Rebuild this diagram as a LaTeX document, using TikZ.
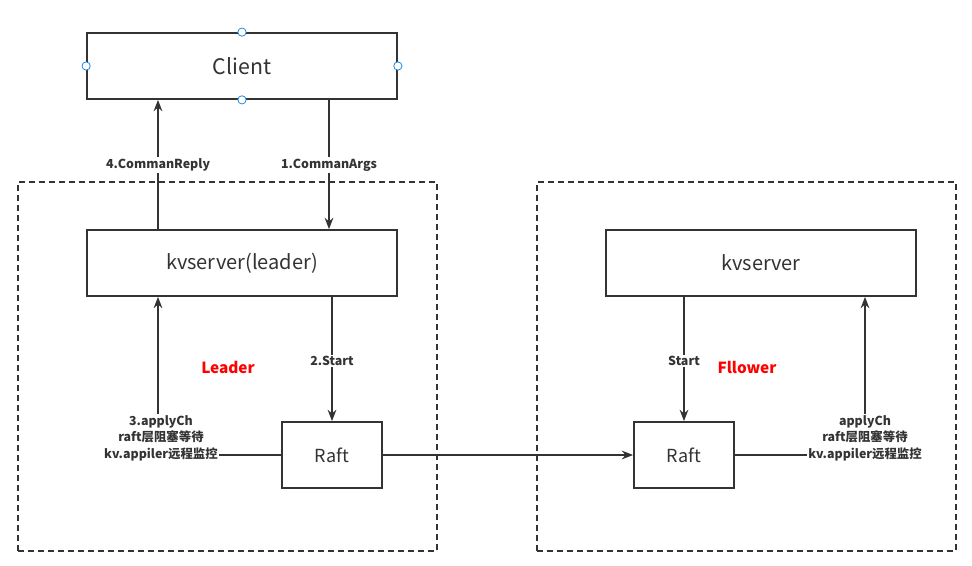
\documentclass[tikz,border=0pt]{standalone}
\usepackage{fontspec}
\setmainfont{Noto Sans CJK SC}
\usepackage{xcolor}
\usetikzlibrary{arrows.meta, positioning, calc}
\definecolor{linegray}{HTML}{333333}
\definecolor{handleblue}{HTML}{1E88E5}

\begin{document}
\begin{tikzpicture}[
    x=0.75pt, y=-0.75pt,
    >={Stealth[length=8.5pt, width=6.5pt]},
    % Styles
    plainbox/.style={rectangle, draw=linegray, line width=1.3pt, fill=white, text=linegray, align=center, inner sep=0pt},
    groupbox/.style={rectangle, draw=linegray, line width=1.1pt, dash pattern=on 4.5pt off 3pt, inner sep=0pt},
    steplabel/.style={font=\fontsize{9.3}{12.3}\selectfont\bfseries, text=linegray, fill=white, align=center, inner sep=1pt},
    rolelabel/.style={font=\fontsize{11.5}{14}\selectfont\bfseries, text=red},
    arrowstyle/.style={->, line width=1.3pt, color=linegray},
    linkstyle/.style={line width=1.3pt, color=linegray},
    handle/.style={circle, draw=handleblue, fill=white, line width=0.6pt, minimum size=6.2pt, inner sep=0pt},
]
\useasboundingbox (0,0) rectangle (972,566);

% === GROUPS ===
\node[groupbox, minimum width=314.25pt, minimum height=276.75pt] (leaderbox) at (227.5,366.5) {};
\node[groupbox, minimum width=314.25pt, minimum height=276.75pt] (followerbox) at (746.5,366.5) {};

% === CLIENT ===
\node[plainbox, minimum width=232.5pt, minimum height=49.5pt, font=\fontsize{16}{18}\selectfont] (client) at (242,66) {Client};

% === LEADER ===
\node[plainbox, minimum width=232.5pt, minimum height=49.5pt, font=\fontsize{15}{18}\selectfont] (leaderkv) at (242,263) {kvserver(leader)};
\node[plainbox, minimum width=75pt, minimum height=49.5pt, font=\fontsize{13.5}{16}\selectfont] (leaderraft) at (332,455) {Raft};
\node[rolelabel] (leadertag) at (228,367) {Leader};

% === FOLLOWER ===
\node[plainbox, minimum width=232.5pt, minimum height=49.5pt, font=\fontsize{15}{18}\selectfont] (followerkv) at (761,263) {kvserver};
\node[plainbox, minimum width=75pt, minimum height=49.5pt, font=\fontsize{13.5}{16}\selectfont] (followerraft) at (684,455) {Raft};
\node[rolelabel] (followertag) at (747,367) {Fllower};

% === LABELS ===
\node[steplabel] (reply) at (158,165) {4.CommanReply};
\node[steplabel] (args) at (329,165) {1.CommanArgs};
\node[steplabel] (start) at (332,361) {2.Start};
\node[steplabel] (apply) at (161,438) {3.applyCh\\raft层阻塞等待\\kv.appiler远程监控};
\node[steplabel] (fstart) at (684,361) {Start};
\node[steplabel] (fapply) at (865,438) {applyCh\\raft层阻塞等待\\kv.appiler远程监控};

% === CONNECTORS ===
\draw[linkstyle] (leaderkv.north -| reply) -- (reply);
\draw[arrowstyle] (reply) -- (client.south -| reply);
\draw[linkstyle] (client.south -| args) -- (args);
\draw[arrowstyle] (args) -- (leaderkv.north -| args);
\draw[linkstyle] (leaderkv.south -| start) -- (start);
\draw[arrowstyle] (start) -- (leaderraft.north);
\draw[linkstyle] (leaderraft.west) -- (leaderraft.west -| apply.east);
\draw[arrowstyle] (apply.north -| reply) -- (leaderkv.south -| reply);
\draw[arrowstyle] (leaderraft) -- (followerraft);
\draw[linkstyle] (followerkv.south -| fstart) -- (fstart);
\draw[arrowstyle] (fstart) -- (followerraft.north);
\draw[linkstyle] (followerraft.east) -- (followerraft.east -| fapply.west);
\draw[arrowstyle] (fapply.north) -- (followerkv.south -| fapply.north);

% === HANDLES ===
\node[handle] at (client.north) {};
\node[handle] at (client.south) {};
\node[handle] at (client.west) {};
\node[handle] at (client.east) {};

\end{tikzpicture}
\end{document}
